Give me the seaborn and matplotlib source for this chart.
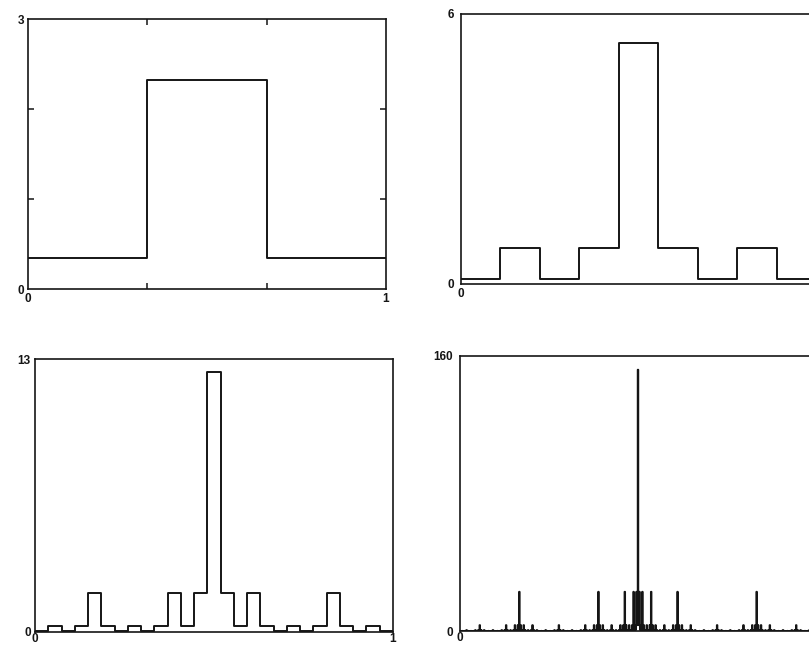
import numpy as np
import seaborn as sns
import matplotlib.pyplot as plt

# step heights (density on [0, 1])
panel1_values = [0.34, 2.32, 0.34]
panel2_values = [0.12, 0.79, 0.12, 0.79, 5.36, 0.79, 0.12, 0.79, 0.12]
panel3_values = [0.04, 0.27, 0.04, 0.27, 1.84, 0.27, 0.04, 0.27, 0.04,
                 0.27, 1.84, 0.27, 1.84, 12.4, 1.84, 0.27, 1.84, 0.27,
                 0.04, 0.27, 0.04, 0.27, 1.84, 0.27, 0.04, 0.27, 0.04]

# panel 4: 729 bins, each bin belongs to one of 7 height levels
panel4_heights = [0.002, 0.011, 0.076, 0.51, 3.4, 22.8, 152.0]
panel4_levels = [
    "010121010121232121010121010",
    "121232121232343232121232121",
    "010121010121232121010121010",
    "121232121232343232121232121",
    "232343232343454343232343232",
    "121232121232343232121232121",
    "010121010121232121010121010",
    "121232121232343232121232121",
    "010121010121232121010121010",
    "121232121232343232121232121",
    "232343232343454343232343232",
    "121232121232343232121232121",
    "232343232343454343232343232",
    "343454343454565454343454343",
    "232343232343454343232343232",
    "121232121232343232121232121",
    "232343232343454343232343232",
    "121232121232343232121232121",
    "010121010121232121010121010",
    "121232121232343232121232121",
    "010121010121232121010121010",
    "121232121232343232121232121",
    "232343232343454343232343232",
    "121232121232343232121232121",
    "010121010121232121010121010",
    "121232121232343232121232121",
    "010121010121232121010121010",
]
panel4_values = [panel4_heights[int(c)] for c in "".join(panel4_levels)]

y_tops = [3, 6, 13, 160]
# the right-hand panels run off the page, so their "1" is not seen
x_labels = [['0', '1'], ['0', ''], ['0', '1'], ['0', '']]

sns.set_style("white")
plt.rcParams['font.family'] = ['Liberation Sans', 'DejaVu Sans']
plt.rcParams['font.weight'] = 'bold'

W, H = 809, 647
fig = plt.figure(figsize=(W / 100, H / 100), dpi=100)

# axes boxes in pixels: left, top, width, height
boxes = [(28, 19, 358, 270), (461, 14, 355, 270),
         (35, 359, 358, 273), (460, 356, 356, 275)]
series = [panel1_values, panel2_values, panel3_values, panel4_values]

ink = '#151515'
for i, ((l, t, w, h), vals, top) in enumerate(zip(boxes, series, y_tops)):
    ax = fig.add_axes([l / W, 1 - (t + h) / H, w / W, h / H])
    n = len(vals)
    edges = np.linspace(0, 1, n + 1)
    ys = list(vals) + [vals[-1]]
    sns.lineplot(x=edges, y=ys, drawstyle='steps-post', estimator=None,
                 color=ink, lw=1.4, ax=ax)
    ax.set_xlim(0, 1)
    ax.set_ylim(0, top)
    ax.set_xticks([0, 1])
    ax.set_xticklabels(x_labels[i])
    ax.set_yticks([0, top])
    ax.set_yticklabels(['0', str(top)])
    ax.tick_params(which='major', length=0, labelsize=8.5, colors=ink)
    ax.tick_params(axis='x', which='major', pad=3 if i < 2 else 0.5)
    ax.tick_params(axis='y', which='major', pad=3 if i % 2 == 0 else 5)
    ax.set_xlabel('')
    ax.set_ylabel('')
    for s in ax.spines.values():
        s.set_color(ink)
        s.set_linewidth(1.2)
    if n == 3:
        ax.set_xticks([1 / 3, 2 / 3], minor=True)
        ax.set_yticks([1, 2], minor=True)
        ax.tick_params(which='minor', direction='in', length=4, width=1.1,
                       top=True, bottom=True, left=True, right=True, color=ink)

fig.savefig("out.png", dpi=100, facecolor='white')
